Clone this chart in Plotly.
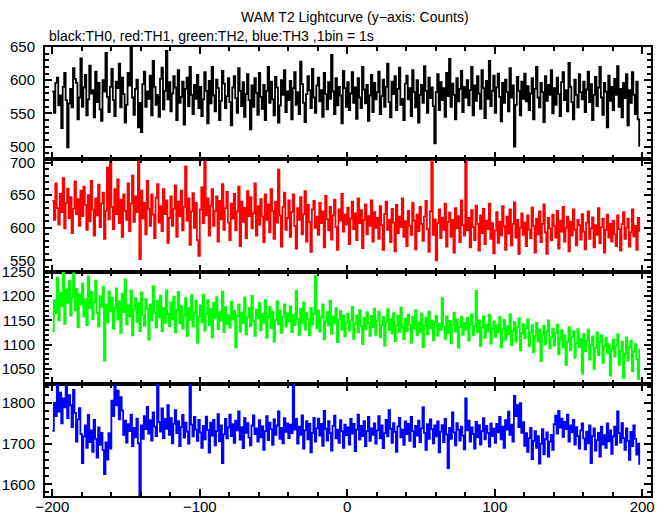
import plotly.graph_objects as go
from plotly.subplots import make_subplots

# Time of first bin (s), 1 bin = 1 s
t_start = -200

th0 = [583,551,596,604,562,577,528,590,611,570,499,565,587,559,618,602,596,541,574,633,
       560,589,608,547,571,622,580,585,544,613,567,596,556,539,600,583,641,575,552,590,
       617,570,546,598,588,625,559,604,579,536,563,611,592,650,574,548,587,601,529,566,
       522,594,613,560,583,572,607,547,629,590,563,578,545,602,619,556,584,644,571,597,
       553,580,606,589,540,615,566,575,598,533,587,604,561,620,578,549,593,572,608,558,
       590,546,571,612,584,535,599,565,620,577,553,601,588,540,569,614,595,558,576,603,
       567,532,589,606,573,551,618,584,561,597,545,579,609,570,526,592,560,603,581,548,
       611,575,557,593,540,584,620,566,598,571,547,605,589,536,562,600,578,615,552,583,
       570,599,541,588,612,563,582,549,628,594,566,537,579,606,585,558,617,574,551,592,
       604,568,585,545,611,579,556,597,572,638,583,549,603,562,590,577,535,614,588,560,
       597,555,580,612,566,589,542,603,574,558,620,586,565,593,539,577,608,552,596,571,
       582,613,549,576,601,560,590,625,567,544,598,579,606,555,587,619,563,572,540,595,
       607,571,588,546,615,582,559,600,536,578,593,566,621,584,551,604,573,589,561,505,
       582,609,555,597,570,588,545,611,576,632,560,595,578,541,603,568,587,614,552,590,
       574,600,562,585,620,547,592,569,606,580,557,615,588,543,599,572,629,561,584,607,
       551,589,610,575,538,596,566,601,582,553,618,574,592,500,563,605,584,547,598,572,
       610,568,591,555,580,603,541,587,620,574,559,596,582,537,606,569,593,578,615,550,
       588,563,604,579,546,597,612,570,585,553,626,590,567,541,601,578,559,609,582,571,
       598,552,586,613,567,594,540,578,605,561,589,620,574,548,596,583,529,607,569,590,
       555,602,578,621,560,587,544,596,573,609,532,585,566,612,578,549,598,541,500]

th1 = [641,612,668,630,605,652,624,676,599,638,660,615,647,592,629,671,621,644,603,657,
       618,663,635,597,650,610,672,628,588,645,619,666,601,637,654,583,626,692,613,704,
       632,598,659,621,674,607,643,586,651,626,612,668,595,637,680,609,648,624,701,552,
       657,614,638,590,672,629,603,651,620,584,646,667,608,633,595,659,621,642,577,615,
       648,603,629,665,586,640,618,657,596,632,694,611,645,574,625,653,600,638,581,557,
       628,662,607,701,619,645,588,634,659,603,626,648,579,641,613,667,597,630,655,608,
       581,637,614,652,596,625,663,572,640,609,631,584,656,618,647,599,622,668,588,633,
       605,644,617,578,651,612,636,593,659,626,583,640,608,689,619,571,632,654,597,615,
       642,586,624,651,603,568,630,612,647,590,621,656,579,635,609,563,628,641,600,617,
       589,638,607,625,570,649,613,596,632,582,619,643,601,566,628,611,652,594,620,605,
       631,575,614,640,598,622,581,645,607,627,569,612,636,590,618,603,642,579,624,600,
       615,583,633,604,566,621,640,597,612,578,629,608,564,635,592,617,601,645,586,610,
       572,626,603,589,638,611,567,620,595,632,606,580,617,641,598,563,625,702,589,613,
       550,607,628,584,615,597,637,571,609,623,586,612,562,630,599,618,578,642,604,588,
       703,596,615,570,627,601,581,634,606,565,619,592,629,575,611,598,637,583,607,561,
       596,624,577,609,588,633,602,566,617,591,628,573,606,639,585,612,560,600,622,589,
       608,572,619,597,584,631,603,562,614,590,625,578,606,636,593,560,615,599,581,620,
       603,585,626,568,611,594,632,579,600,617,564,609,588,628,597,573,612,604,582,621,
       594,567,608,625,583,599,616,570,604,589,630,576,601,614,562,597,620,585,606,579,
       611,590,572,619,598,565,606,624,583,600,614,571,593,628,587,603,566,615,594]

th2 = [1128,1192,1165,1238,1150,1207,1179,1250,1143,1214,1186,1231,1160,1198,1247,1171,1215,1136,1204,1183,
       1226,1158,1194,1140,1241,1176,1209,1152,1188,1232,1165,1137,1200,1178,1219,1067,1183,1146,1210,1169,
       1197,1133,1175,1216,1152,1189,1124,1205,1167,1234,1142,1181,1158,1212,1119,1173,1196,1147,1186,1128,
       1208,1161,1139,1194,1174,1110,1183,1150,1220,1166,1135,1191,1157,1201,1128,1176,1145,1212,1163,1138,
       1187,1152,1199,1125,1171,1209,1144,1180,1133,1160,1196,1118,1175,1151,1202,1137,1166,1190,1104,1158,
       1181,1146,1203,1129,1164,1192,1140,1173,1115,1186,1155,1198,1132,1167,1149,1210,1126,1178,1143,1161,
       1135,1188,1152,1170,1094,1159,1183,1127,1166,1145,1197,1121,1156,1176,1138,1201,1149,1118,1172,1154,
       1186,1130,1163,1145,1192,1114,1157,1178,1134,1168,1106,1151,1189,1142,1170,1124,1158,1183,1137,1165,
       1148,1179,1126,1162,1140,1211,1153,1120,1174,1145,1187,1131,1166,1152,1119,1176,1141,1163,1242,1134,
       1170,1127,1156,1183,1111,1148,1167,1139,1191,1122,1158,1144,1175,1105,1152,1169,1131,1160,1117,1146,
       1164,1129,1150,1178,1112,1143,1160,1125,1171,1138,1101,1155,1132,1167,1144,1118,1159,1136,1174,1120,
       1149,1168,1115,1140,1157,1098,1146,1173,1130,1152,1123,1165,1107,1139,1160,1126,1177,1135,1111,1153,
       1128,1162,1141,1104,1157,1133,1171,1119,1146,1126,1164,1095,1138,1155,1121,1168,1134,1150,1109,1147,
       1160,1118,1143,1130,1196,1137,1112,1158,1124,1149,1103,1140,1166,1127,1152,1093,1136,1157,1120,1145,
       1131,1155,1108,1142,1163,1119,1138,1211,1126,1150,1097,1135,1158,1114,1141,1127,1162,1102,1133,1148,
       1116,1140,1125,1157,1094,1132,1151,1110,1138,1121,1163,1099,1129,1147,1106,1136,1154,1088,1123,1142,
       1113,1134,1152,1097,1125,1140,1084,1118,1145,1106,1131,1066,1120,1139,1101,1127,1150,1092,1115,1133,
       1098,1124,1141,1080,1111,1130,1094,1119,1058,1106,1136,1088,1116,1127,1073,1103,1132,1095,1112,1040,
       1122,1086,1108,1131,1069,1099,1117,1050,1093,1125,1078,1105,1119,1062,1096,1114,1083,1101,1036,1090,
       1110,1075,1098,1121,1058,1087,1106,1031,1081,1115,1067,1094,1108,1045,1085,1101,1070,1029,1092]

th3 = [1732,1801,1768,1845,1779,1826,1750,1812,1790,1841,1763,1820,1795,1741,1833,1776,1705,1760,1788,1724,
       1652,1718,1745,1690,1771,1704,1733,1680,1759,1712,1666,1740,1697,1727,1684,1625,1703,1661,1726,1688,
       1806,1768,1849,1795,1831,1760,1815,1782,1722,1757,1703,1748,1731,1772,1694,1739,1716,1762,1701,1571,
       1745,1712,1768,1736,1791,1725,1758,1708,1777,1742,1719,1850,1753,1730,1787,1714,1761,1737,1795,1722,
       1764,1701,1749,1783,1726,1756,1694,1741,1771,1715,1752,1730,1700,1850,1747,1718,1766,1735,1707,1759,
       1728,1690,1744,1711,1767,1734,1678,1752,1720,1759,1696,1731,1773,1706,1745,1652,1723,1761,1713,1740,
       1772,1719,1748,1702,1757,1733,1780,1710,1741,1689,1763,1727,1751,1715,1696,1745,1770,1724,1738,1705,
       1758,1716,1743,1685,1731,1768,1709,1752,1736,1697,1760,1722,1745,1780,1712,1739,1701,1763,1729,1750,
       1714,1747,1726,1850,1735,1761,1700,1742,1722,1770,1688,1733,1756,1711,1749,1679,1727,1764,1705,1738,
       1762,1720,1749,1695,1781,1737,1708,1756,1726,1683,1744,1769,1713,1735,1702,1758,1731,1690,1747,1721,
       1740,1698,1761,1725,1749,1682,1735,1772,1710,1744,1719,1756,1694,1731,1766,1707,1738,1722,1750,1700,
       1733,1768,1713,1745,1689,1726,1759,1718,1783,1737,1702,1751,1729,1680,1743,1764,1716,1735,1697,1755,
       1724,1749,1707,1766,1731,1692,1744,1720,1757,1704,1738,1790,1727,1685,1748,1712,1760,1736,1701,1745,
       1718,1755,1679,1730,1746,1704,1761,1723,1640,1739,1712,1777,1728,1696,1751,1734,1708,1742,1720,1686,
       1812,1733,1757,1705,1740,1724,1688,1754,1716,1746,1698,1731,1763,1711,1744,1727,1693,1750,1719,1737,
       1702,1749,1728,1766,1711,1742,1690,1758,1735,1779,1722,1747,1705,1818,1768,1795,1741,1800,1727,1753,
       1695,1726,1680,1714,1739,1662,1707,1731,1690,1719,1651,1700,1736,1674,1711,1728,1668,1705,1722,1685,
       1748,1769,1725,1781,1740,1762,1717,1754,1736,1772,1705,1745,1728,1759,1698,1741,1719,1688,1733,1750,
       1713,1686,1730,1701,1745,1652,1719,1738,1683,1709,1727,1668,1742,1698,1721,1690,1750,1706,1733,1675,
       1718,1742,1697,1780,1726,1703,1751,1714,1685,1738,1707,1660,1729,1694,1745,1712,1673,1700,1648]

series = [th0, th1, th2, th3]
colors = ["#000000", "#ff0000", "#00ff00", "#0000ff"]
y_ranges = [[481, 650], [533, 705], [1019, 1251], [1571, 1848]]
y_major = [50, 50, 50, 100]
y_minor = [10, 10, 10, 20]

title_text = "WAM T2 Lightcurve (y\u2212axis: Counts)"
subtitle_text = "black:TH0, red:TH1, green:TH2, blue:TH3 ,1bin = 1s"

FONT = "Liberation Sans, Arial, Helvetica, sans-serif"

fig = make_subplots(rows=4, cols=1, shared_xaxes=True, vertical_spacing=0)

for i, (vals, col) in enumerate(zip(series, colors)):
    x = [t_start + k for k in range(len(vals))]
    fig.add_trace(go.Scatter(x=x, y=vals, mode="lines",
                             line=dict(color=col, width=1.8, shape="hv"),
                             showlegend=False, hoverinfo="skip"),
                  row=i + 1, col=1)
    fig.update_yaxes(range=y_ranges[i], dtick=y_major[i], tick0=0,
                     ticks="inside", ticklen=7, tickwidth=2, tickcolor="black",
                     minor=dict(dtick=y_minor[i], tick0=0, ticks="inside", ticklen=4,
                                tickwidth=1.5, tickcolor="black"),
                     showline=True, linecolor="black", linewidth=2, mirror="allticks",
                     showgrid=False, zeroline=False, automargin=False,
                     ticklabelstandoff=5,
                     tickfont=dict(family=FONT, size=15, color="black"),
                     row=i + 1, col=1)

fig.update_xaxes(range=[-205, 206], dtick=100, tick0=0,
                 ticks="inside", ticklen=7, tickwidth=2, tickcolor="black",
                 minor=dict(dtick=20, tick0=0, ticks="inside", ticklen=4,
                            tickwidth=1.5, tickcolor="black"),
                 showline=True, linecolor="black", linewidth=2, mirror="allticks",
                 showgrid=False, zeroline=False, automargin=False,
                 ticklabelstandoff=-4,
                 tickfont=dict(family=FONT, size=15, color="black"))

fig.add_annotation(text=title_text, xref="paper", yref="paper",
                   x=(355 - 45) / 606, y=(496 - 17) / 449, xanchor="center", yanchor="middle",
                   showarrow=False, font=dict(family=FONT, size=14, color="black"))
fig.add_annotation(text=subtitle_text, xref="paper", yref="paper",
                   x=(47 - 45) / 606, y=(496 - 36) / 449, xanchor="left", yanchor="middle",
                   showarrow=False, font=dict(family=FONT, size=14, color="black"))

fig.update_layout(width=669, height=515,
                  margin=dict(l=45, r=18, t=47, b=19),
                  paper_bgcolor="white", plot_bgcolor="white",
                  font=dict(family=FONT, color="black"))

fig.write_html("out.html", config={"displayModeBar": False},
               post_script="document.body.style.margin='0';document.body.style.overflow='hidden';")
